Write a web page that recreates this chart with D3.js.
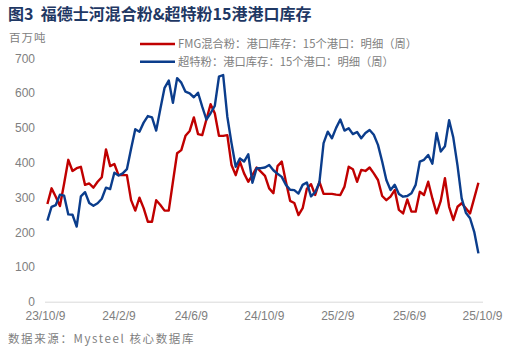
<!DOCTYPE html>
<html>
<head>
<meta charset="utf-8">
<script src="https://cdn.jsdelivr.net/npm/d3@7"></script>
<style>
  html, body { margin: 0; padding: 0; background: #fff; }
  svg { display: block; }
</style>
</head>
<body>
<svg id="chart" width="520" height="355"></svg>
<script>
// ---- data (weekly, Fridays) ----
const startDate = "2023-10-13";
const fmgValues = [
  281, 326, 302, 275, 340, 408, 376, 384, 388, 336,
  340, 328, 345, 358, 438, 390, 396, 364, 364, 364,
  292, 262, 299, 269, 230, 230, 292, 278, 262, 262,
  345, 427, 436, 477, 491, 530, 482, 479, 524, 568,
  542, 477, 477, 479, 393, 364, 403, 369, 345, 364,
  386, 374, 362, 326, 312, 390, 403, 345, 290, 284,
  249, 269, 325, 338, 307, 345, 310, 310, 310, 308,
  307, 331, 388, 381, 345, 379, 376, 386, 369, 350,
  304, 292, 302, 321, 264, 254, 294, 259, 259, 316,
  307, 345, 297, 254, 290, 355, 273, 235, 273, 283,
  269, 254, 298, 342
];
const superValues = [
  233, 273, 278, 308, 305, 251, 250, 216, 303, 315,
  284, 276, 283, 296, 328, 324, 371, 363, 369, 381,
  440, 496, 489, 515, 534, 530, 492, 555, 615, 636,
  572, 643, 630, 604, 599, 588, 601, 561, 524, 542,
  563, 647, 652, 532, 456, 388, 412, 403, 424, 342,
  384, 384, 386, 393, 378, 368, 359, 336, 322, 321,
  311, 336, 343, 303, 315, 343, 456, 489, 470, 500,
  524, 492, 499, 482, 488, 470, 485, 494, 480, 451,
  403, 350, 321, 336, 310, 302, 304, 312, 336, 403,
  408, 422, 397, 485, 432, 447, 522, 472, 392, 297,
  256, 240, 201, 139
];
const seriesNames = ["FMG混合粉：港口库存：15个港口：明细（周）", "超特粉：港口库存：15个港口：明细（周）"];
const tickDates = ["2023-10-09", "2024-02-09", "2024-06-09", "2024-10-09", "2025-02-09", "2025-06-09", "2025-10-09"];
const yTicks = [0, 100, 200, 300, 400, 500, 600, 700];
const titleText = "图3  福德士河混合粉&超特粉15港港口库存";
const unitText = "百万吨";
const sourceText = "数据来源：Mysteel 核心数据库";

// ---- build ----
const parse = d3.timeParse("%Y-%m-%d");
const t0 = parse(startDate);
const dates = fmgValues.map((_, i) => d3.timeDay.offset(t0, 7 * i));
const colors = ["#c00000", "#0b3d8c"];

const svg = d3.select("#chart");
const cjk = "'Noto Sans CJK SC', 'Noto Sans', sans-serif";
const latin = "'Liberation Sans', Arial, sans-serif";

const x = d3.scaleTime()
  .domain([parse(tickDates[0]), parse(tickDates[tickDates.length - 1])])
  .range([45, 482]);
const y = d3.scaleLinear().domain([0, 700]).range([301.7, 58.3]);

// title
svg.append("text")
  .attr("x", 8).attr("y", 19.5)
  .attr("font-family", cjk).attr("font-weight", 700)
  .attr("font-size", 16).attr("fill", "#1f3864")
  .attr("xml:space", "preserve")
  .text(titleText);

// unit
svg.append("text")
  .attr("x", 9).attr("y", 41.5)
  .attr("font-family", cjk).attr("font-size", 11.5)
  .attr("letter-spacing", 1)
  .attr("fill", "#808080")
  .text(unitText);

// y axis labels
const yAxis = d3.axisLeft(y).tickValues(yTicks).tickSize(0).tickPadding(0);
const gy = svg.append("g").attr("transform", "translate(35,0)").call(yAxis);
gy.select(".domain").remove();
gy.selectAll("text")
  .attr("font-family", latin).attr("font-size", 12)
  .attr("fill", "#808080");

// x axis
const xAxis = d3.axisBottom(x)
  .tickValues(tickDates.map(parse))
  .tickFormat(d3.timeFormat("%y/%-m/%-d"))
  .tickSize(0).tickPadding(10);
const gx = svg.append("g").attr("transform", `translate(0,${y(0)})`).call(xAxis);
gx.select(".domain").attr("stroke", "#d9d9d9").attr("d", "M45,0.5H483");
gx.selectAll("text")
  .attr("font-family", latin).attr("font-size", 12)
  .attr("fill", "#808080");

// lines
const line = d3.line().x((d, i) => x(dates[i])).y(d => y(d));
[fmgValues, superValues].forEach((vals, si) => {
  svg.append("path")
    .datum(vals)
    .attr("fill", "none")
    .attr("stroke", colors[si])
    .attr("stroke-width", 2.4)
    .attr("stroke-linejoin", "round")
    .attr("d", line);
});

// legend
const legend = svg.append("g");
seriesNames.forEach((name, i) => {
  const ly = 44 + i * 17.7;
  legend.append("line")
    .attr("x1", 140).attr("x2", 175).attr("y1", ly).attr("y2", ly)
    .attr("stroke", colors[i]).attr("stroke-width", 2.6);
  legend.append("text")
    .attr("x", 178).attr("y", ly + 4)
    .attr("font-family", cjk).attr("font-size", 11.3)
    .attr("fill", "#808080")
    .text(name);
});

// source
svg.append("text")
  .attr("x", 8).attr("y", 343)
  .attr("font-family", cjk).attr("font-size", 11.5)
  .attr("letter-spacing", 1.6)
  .attr("fill", "#808080")
  .attr("xml:space", "preserve")
  .text(sourceText);
</script>
</body>
</html>
